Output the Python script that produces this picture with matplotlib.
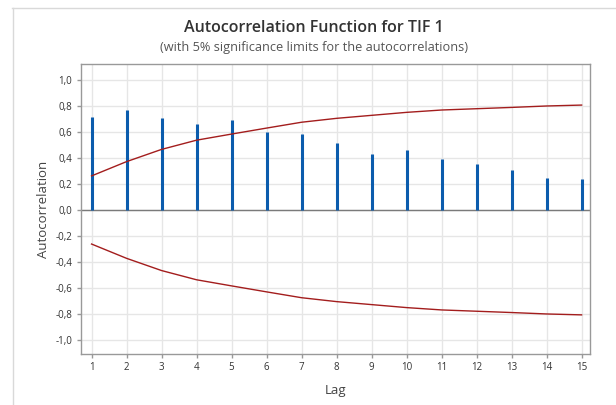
import matplotlib
matplotlib.use("Agg")
import matplotlib.pyplot as plt
from matplotlib.lines import Line2D
from matplotlib.ticker import FuncFormatter

plt.rcParams['font.family'] = ['Open Sans', 'DejaVu Sans']

# data
lags = [1, 2, 3, 4, 5, 6, 7, 8, 9, 10, 11, 12, 13, 14, 15]
acf = [0.717, 0.769, 0.705, 0.661, 0.694, 0.597, 0.581, 0.514, 0.429,
       0.463, 0.393, 0.352, 0.306, 0.247, 0.237]
limit = [0.262, 0.372, 0.466, 0.537, 0.584, 0.630, 0.675, 0.705, 0.728,
         0.751, 0.769, 0.779, 0.789, 0.800, 0.807]
yticks = [-1.0, -0.8, -0.6, -0.4, -0.2, 0.0, 0.2, 0.4, 0.6, 0.8, 1.0]

W, H = 616, 405
fig = plt.figure(figsize=(W/100, H/100), dpi=100)

# outer frame of the screenshot
fig.add_artist(Line2D([12/W, 1], [1-7.5/H, 1-7.5/H], color='#d9d9d9', lw=1))
fig.add_artist(Line2D([12.5/W, 12.5/W], [0, 1-7.5/H], color='#d9d9d9', lw=1))

ax = fig.add_axes([80.7/W, 1-354/H, (590-80.7)/W, (354-64)/H])

ax.vlines(lags, 0, acf, color='#0b5cad', lw=2.2, zorder=3)
ax.plot(lags, limit, color='#a31d1d', lw=1.0, zorder=4)
ax.plot(lags, [-v for v in limit], color='#a31d1d', lw=1.0, zorder=4)
ax.axhline(0, color='#7a7a7a', lw=1.0, zorder=2)

ax.set_xlim(0.69, 15.24)
ax.set_ylim(-1.108, 1.123)
ax.set_xticks(lags)
ax.set_yticks(yticks)
ax.yaxis.set_major_formatter(FuncFormatter(lambda v, p: ('%.1f' % v).replace('.', ',').replace('-0,0', '0,0')))
ax.grid(True, color='#e6e6e6', lw=1.0, zorder=0)
ax.set_axisbelow(True)
for s in ax.spines.values():
  s.set_color('#999999')
  s.set_linewidth(1.0)
ax.tick_params(axis='both', colors='#999999', labelcolor='#333333',
               labelsize=7, length=3, width=1, pad=3)

ax.set_xlabel('Lag', fontsize=9.5, color='#444444', labelpad=8)
ax.set_ylabel('Autocorrelation', fontsize=9.5, color='#444444', labelpad=4)

fig.text(314/W, 1-28/H, 'Autocorrelation Function for TIF 1', ha='center', va='center',
         fontsize=11.5, fontweight='semibold', color='#333333')
fig.text(314/W, 1-47/H, '(with 5% significance limits for the autocorrelations)', ha='center',
         va='center', fontsize=9.2, color='#555555')

fig.savefig('out.png', dpi=100)
